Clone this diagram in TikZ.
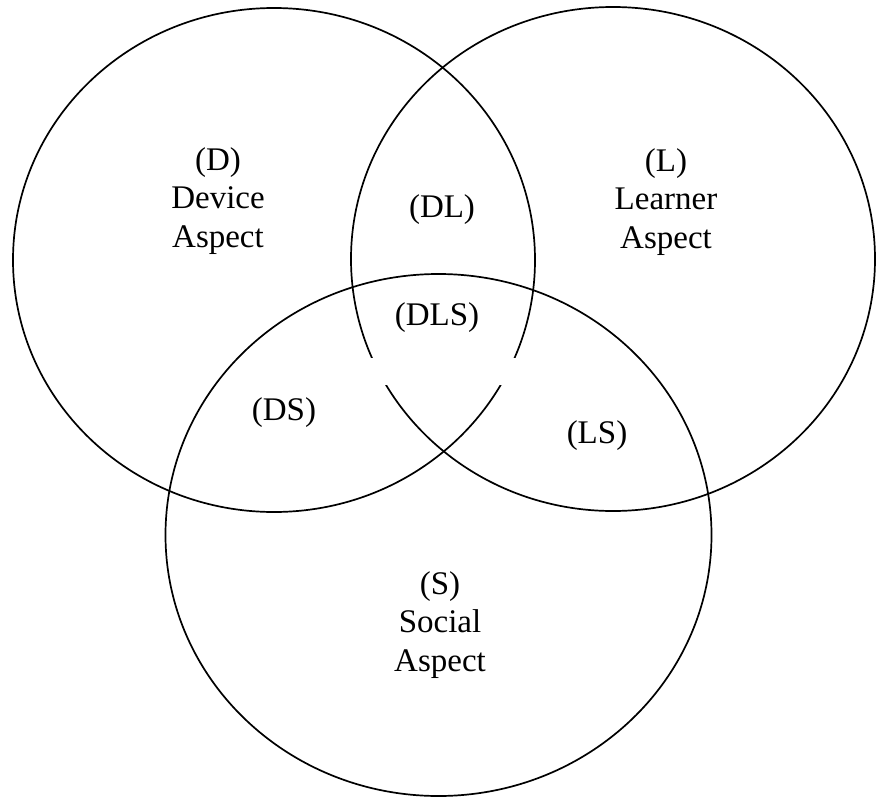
\documentclass[tikz,border=0pt]{standalone}
\usepackage{fontspec}
\setmainfont{Liberation Serif}
\begin{document}
\begin{tikzpicture}[x=1pt,y=-1pt,
  ring/.style={draw=black,line width=1.7pt},
  lbl/.style={align=center,inner sep=0pt,font=\fontsize{33}{38.5}\selectfont}]
\useasboundingbox (0,0) rectangle (876,798);
% the three aspect sets
\draw[ring] (274,260) ellipse [x radius=261,y radius=252];
\draw[ring] (613,259) ellipse [x radius=262,y radius=252];
\draw[ring] (438.5,535) ellipse [x radius=273,y radius=261];
% break in the inner arcs below the centre region
\fill[white] (362,358) rectangle (522,385);
% region labels
\node[lbl] (D) at (218,201) {(D)\\Device\\Aspect};
\node[lbl] (L) at (666,202) {(L)\\Learner\\Aspect};
\node[lbl] (S) at (440,625) {(S)\\Social\\Aspect};
\node[lbl] (DL) at (442,210) {(DL)};
\node[lbl] (DLS) at (437,318) {(DLS)};
\node[lbl] (DS) at (284,413) {(DS)};
\node[lbl] (LS) at (597,436) {(LS)};
\end{tikzpicture}
\end{document}
